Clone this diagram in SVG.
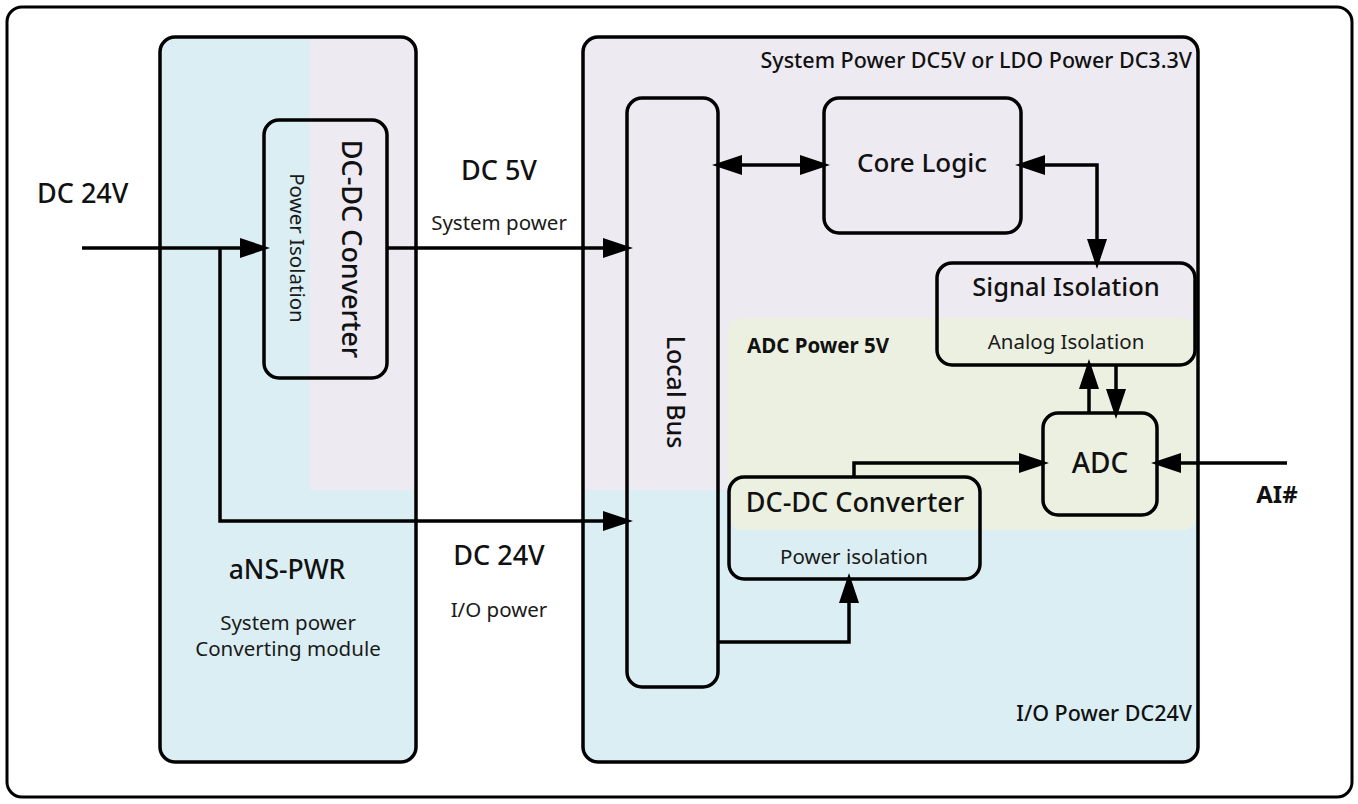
<svg xmlns="http://www.w3.org/2000/svg" width="1358" height="804" viewBox="0 0 1358 804">
<style>
.box{fill:none;stroke:#000;stroke-width:3.5}
.ln{fill:none;stroke:#000;stroke-width:3.5}
.arr{marker-end:url(#ah)}
.bi{marker-start:url(#ah);marker-end:url(#ah)}
text{font-family:"Noto Sans","Open Sans","DejaVu Sans",sans-serif;fill:#111;font-weight:500}
.big{font-size:27px}
.mid{font-size:25.5px}
.sm{font-size:20.5px;fill:#1a1a1a;font-weight:normal}
.b{font-weight:bold}
.c{text-anchor:middle}
.r{text-anchor:end}
</style>
<defs>
<marker id="ah" markerUnits="userSpaceOnUse" markerWidth="30" markerHeight="20" refX="24" refY="10" orient="auto-start-reverse">
<path d="M0,0 L30,10 L0,20 Z" fill="#000"/>
</marker>
<clipPath id="cpL"><rect x="160" y="37" width="256" height="725" rx="15"/></clipPath>
<clipPath id="cpR"><rect x="583" y="37" width="615" height="725" rx="15"/></clipPath>
</defs>
<rect x="7" y="7" width="1345" height="790" rx="15" fill="#fff" stroke="#000" stroke-width="3"/>

<g id="ans-pwr">
<g clip-path="url(#cpL)">
<rect x="160" y="37" width="256" height="725" fill="#daeef3"/>
<rect x="310" y="37" width="106" height="453" fill="#edeaf2"/>
</g>
<rect class="box" x="160" y="37" width="256" height="725" rx="15"/>
<text class="c" x="287" y="579" font-size="26.5">aNS-PWR</text>
<text class="c sm" x="288" y="630" font-size="20">System power</text>
<text class="c sm" x="288" y="656">Converting module</text>
</g>

<g id="dcdc-pwr">
<rect class="box" x="264" y="120" width="123" height="258" rx="15"/>
<text class="c big" transform="translate(342,249) rotate(90)">DC-DC Converter</text>
<text class="c sm" transform="translate(290,248) rotate(90)">Power Isolation</text>
</g>

<g id="io-module">
<g clip-path="url(#cpR)">
<rect x="583" y="37" width="615" height="725" fill="#daeef3"/>
<rect x="583" y="37" width="615" height="453" fill="#edeaf2"/>
<rect x="728" y="318" width="469" height="212" rx="14" fill="#ebf0e0"/>
</g>
<rect class="box" x="583" y="37" width="615" height="725" rx="15"/>
<text class="r" x="1192" y="68" font-size="21.5">System Power DC5V or LDO Power DC3.3V</text>
<text class="r" x="1192" y="721" font-size="21.5">I/O Power DC24V</text>
<text class="b" x="747" y="353" font-size="20.5">ADC Power 5V</text>
</g>

<g id="local-bus">
<rect class="box" x="627" y="98" width="91" height="589" rx="15"/>
<text class="c" font-size="25" transform="translate(667,392) rotate(90)">Local Bus</text>
</g>

<g id="core-logic">
<rect class="box" x="824" y="98" width="197" height="135" rx="15"/>
<text class="c" x="922" y="172" font-size="26">Core Logic</text>
</g>

<g id="signal-isolation">
<rect class="box" x="937" y="263" width="258" height="102" rx="15"/>
<text class="c mid" x="1066" y="296">Signal Isolation</text>
<text class="c sm" x="1066" y="349">Analog Isolation</text>
</g>

<g id="adc">
<rect class="box" x="1043" y="413" width="114" height="102" rx="15"/>
<text class="c" x="1100" y="473" font-size="28">ADC</text>
</g>

<g id="dcdc-io">
<rect class="box" x="729" y="477" width="251" height="102" rx="15"/>
<text class="c big" x="855" y="512">DC-DC Converter</text>
<text class="c sm" x="854" y="564">Power isolation</text>
</g>

<g id="labels">
<text x="37" y="203" class="big" font-size="28">DC 24V</text>
<text class="c big" x="499" y="180">DC 5V</text>
<text class="c sm" x="499" y="230">System power</text>
<text class="c big" x="499" y="565">DC 24V</text>
<text class="c sm" x="499" y="617">I/O power</text>
<text class="c b" x="1277" y="503" font-size="24">AI#</text>
</g>

<g id="connectors">
<path class="ln arr" d="M82,248 H264"/>
<path class="ln arr" d="M220,248 V521 H627"/>
<path class="ln arr" d="M387,248 H627"/>
<path class="ln bi" d="M718,165 H824"/>
<path class="ln bi" d="M1021,165 H1097 V263"/>
<path class="ln arr" d="M1089,413 V365"/>
<path class="ln arr" d="M1116,365 V413"/>
<path class="ln arr" d="M854,477 V463 H1043"/>
<path class="ln arr" d="M1287,463 H1157"/>
<path class="ln arr" d="M718,642 H849 V579"/>
</g>
</svg>
